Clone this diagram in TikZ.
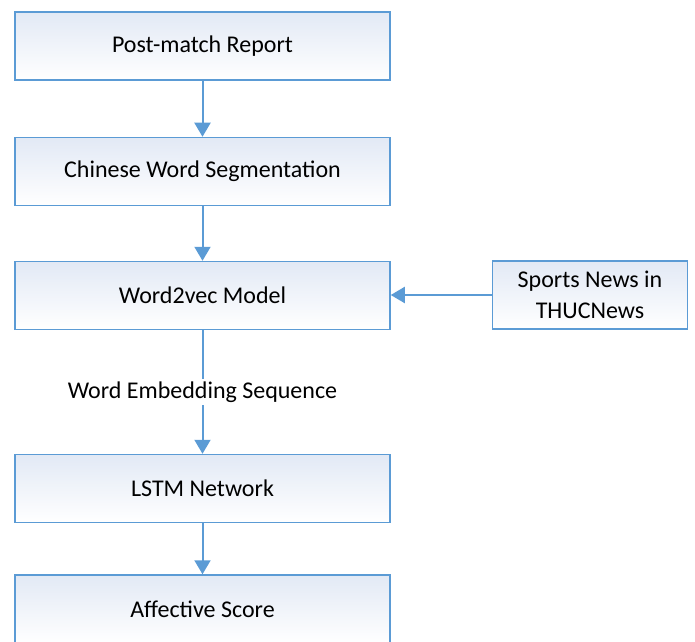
\documentclass[tikz,border=0pt]{standalone}
\usepackage{fontspec}
\setmainfont{Carlito}
\usetikzlibrary{arrows.meta}
\definecolor{boxblue}{RGB}{91,155,213}
\definecolor{boxtint}{RGB}{226,233,245}
\tikzset{
  boxfont/.style={font=\fontsize{24}{31}\selectfont},
  stepbox/.style={draw=boxblue, line width=1.5pt, minimum width=375pt, minimum height=68pt,
    left color=boxtint, right color=white, shading angle=0, boxfont, align=center, inner sep=0pt},
  sidebox/.style={stepbox, minimum width=195pt},
  flow/.style={draw=boxblue, line width=2pt, -{Triangle[length=14pt,width=16pt]}}
}
\begin{document}
\begin{tikzpicture}[x=1pt,y=1pt]
\useasboundingbox (0,0) rectangle (695,641);
\node[stepbox] (b1) at (202.5,595) {Post-match Report};
\node[stepbox] (b2) at (202.5,469.5) {Chinese Word Segmentation};
\node[stepbox] (b3) at (202.5,345.5) {Word2vec Model};
\node[stepbox] (b4) at (202.5,152.5) {LSTM Network};
\node[stepbox] (b5) at (202.5,32) {Affective Score};
\node[sidebox] (s) at (590,346) {Sports News in\\THUCNews};
\draw[flow] (b1) -- (b2);
\draw[flow] (b2) -- (b3);
\draw[flow] (b3) -- (b4) node[pos=0.5, fill=white, inner sep=3pt, boxfont] (lbl) {Word Embedding Sequence};
\draw[flow] (b4) -- (b5);
\draw[flow] (s.west) -- (b3.east |- s.west);
\end{tikzpicture}
\end{document}
